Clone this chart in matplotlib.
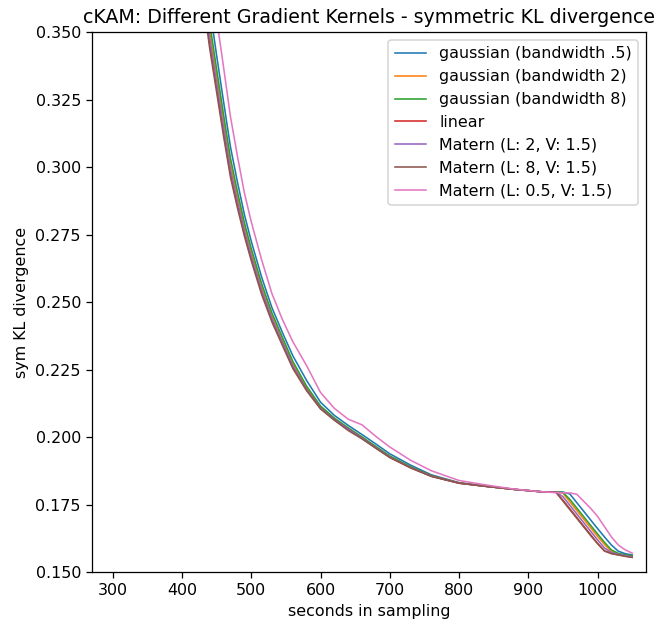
import numpy as np
import matplotlib
matplotlib.use('Agg')
import matplotlib.pyplot as plt

# sampling time stamps (seconds) shared by all runs
seconds = [420, 430, 440, 450, 460, 470, 480, 490, 500, 515, 530, 545, 560,
           580, 600, 620, 640, 660, 680, 700, 730, 760, 800, 840, 880, 920,
           940, 950, 960, 970, 980, 990, 1000, 1010, 1020, 1030, 1040, 1050]

# symmetric KL divergence per kernel
gauss_05 = [.4003, .3790, .3591, .3413, .3242, .3074, .2945, .2825, .2725, .2592,
            .2478, .2387, .2301, .2209, .2129, .2080, .2043, .2009, .1974, .1938,
            .1896, .1860, .1831, .1818, .1806, .1797,
            .1797, .1796, .1789, .1757, .1725, .1693, .1661, .1630, .1600, .1577,
            .1568, .1563]
gauss_2 = [.3908, .3700, .3505, .3336, .3170, .3011, .2891, .2780, .2684, .2556,
           .2448, .2360, .2272, .2182, .2111, .2067, .2031, .1997, .1962, .1928,
           .1888, .1856, .1830, .1817, .1806, .1797,
           .1797, .1792, .1760, .1728, .1696, .1664, .1632, .1602, .1576, .1567,
           .1562, .1558]
gauss_8 = [.3940, .3730, .3534, .3362, .3194, .3032, .2909, .2795, .2698, .2568,
           .2458, .2369, .2280, .2188, .2115, .2070, .2034, .2000, .1965, .1930,
           .1890, .1857, .1830, .1817, .1806, .1797,
           .1796, .1795, .1769, .1737, .1705, .1673, .1641, .1610, .1582, .1569,
           .1564, .1560]
linear = [.3856, .3650, .3458, .3294, .3130, .2976, .2861, .2755, .2662, .2536,
          .2432, .2345, .2259, .2175, .2107, .2064, .2029, .1995, .1960, .1925,
          .1886, .1855, .1829, .1817, .1806, .1797,
          .1796, .1766, .1734, .1702, .1670, .1638, .1606, .1578, .1569, .1564,
          .1559, .1555]
matern_2 = [.3877, .3670, .3477, .3311, .3146, .2990, .2873, .2765, .2671, .2544,
            .2438, .2351, .2264, .2175, .2107, .2064, .2029, .1995, .1960, .1926,
            .1887, .1855, .1829, .1817, .1806, .1797,
            .1796, .1779, .1747, .1715, .1683, .1651, .1619, .1589, .1572, .1566,
            .1561, .1556]
matern_8 = [.3835, .3630, .3439, .3277, .3114, .2962, .2849, .2745, .2653, .2528,
            .2425, .2339, .2254, .2171, .2104, .2062, .2024, .1993, .1958, .1924,
            .1886, .1854, .1829, .1817, .1806, .1797,
            .1795, .1763, .1731, .1699, .1667, .1635, .1605, .1578, .1568, .1563,
            .1558, .1554]
matern_05 = [.4171, .3950, .3743, .3549, .3370, .3186, .3041, .2905, .2797, .2656,
             .2530, .2435, .2353, .2264, .2165, .2106, .2066, .2045, .2002, .1963,
             .1914, .1875, .1839, .1822, .1807, .1797,
             .1794, .1793, .1793, .1788, .1762, .1736, .1706, .1668, .1630, .1600,
             .1582, .1570]

labels = ['gaussian (bandwidth .5)', 'gaussian (bandwidth 2)',
          'gaussian (bandwidth 8)', 'linear', 'Matern (L: 2, V: 1.5)',
          'Matern (L: 8, V: 1.5)', 'Matern (L: 0.5, V: 1.5)']
runs = [gauss_05, gauss_2, gauss_8, linear, matern_2, matern_8, matern_05]

dpi = 114
fig = plt.figure(figsize=(656/dpi, 629/dpi), dpi=dpi)
ax = fig.add_subplot(111)
fig.subplots_adjust(left=0.1402, right=0.9848, bottom=0.0906, top=0.9491)

for vals, lab in zip(runs, labels):
    ax.plot(seconds, vals, lw=1.0, label=lab)

ax.set_xlim(270, 1070)
ax.set_ylim(0.15, 0.35)
ax.set_xlabel('seconds in sampling')
ax.set_ylabel('sym KL divergence')
ax.set_title('cKAM: Different Gradient Kernels - symmetric KL divergence')
ax.legend(loc='upper right')

fig.savefig('out.png', dpi=dpi)
